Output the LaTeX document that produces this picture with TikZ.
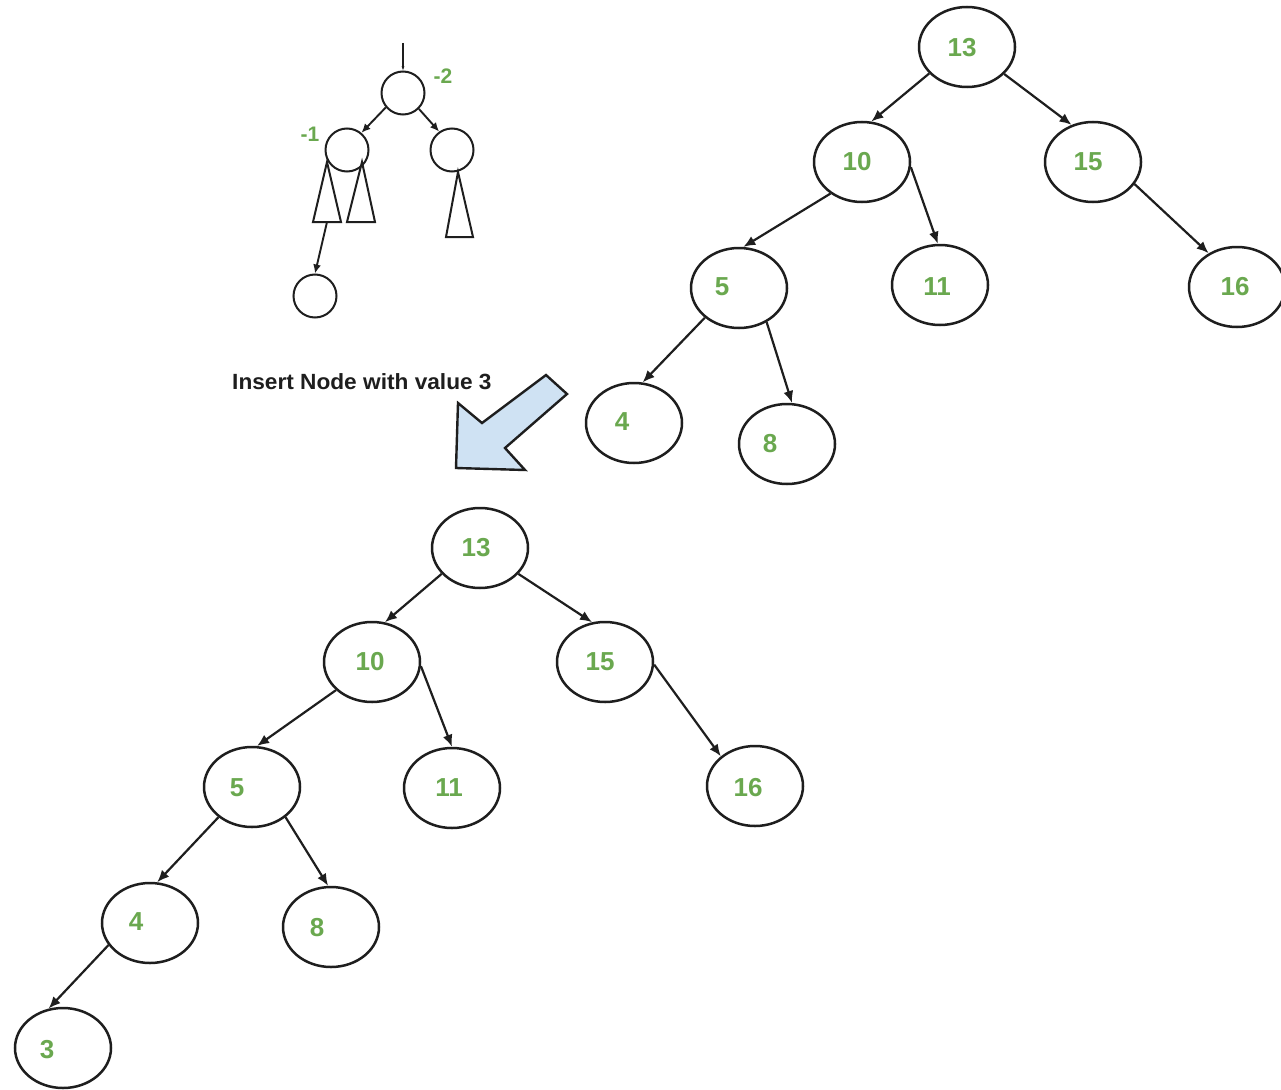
\documentclass[tikz,border=0pt]{standalone}
\usepackage{fontspec}
\usepackage{graphicx}
\setmainfont{Liberation Sans}
\usetikzlibrary{shapes.geometric,arrows.meta}
\definecolor{numgreen}{RGB}{106,168,79}
\definecolor{arrowfill}{RGB}{207,226,243}
\definecolor{ink}{RGB}{30,30,30}
\begin{document}
\begin{tikzpicture}[x=1pt,y=-1pt,
  tn/.style={ellipse,draw=ink,line width=2.5pt,minimum width=96pt,minimum height=80pt,inner sep=0pt},
  num/.style={font=\fontsize{26}{26}\selectfont\bfseries,text=numgreen,inner sep=0pt},
  snum/.style={font=\fontsize{21}{21}\selectfont\bfseries,text=numgreen,inner sep=0pt},
  edge/.style={draw=ink,line width=2.2pt,-{Latex[length=12pt,width=10pt]}},
  sc/.style={circle,draw=ink,line width=2pt,minimum size=43pt,inner sep=0pt},
  sedge/.style={draw=ink,line width=1.9pt,-{Latex[length=9pt,width=8pt]}},
  tri/.style={draw=ink,line width=2pt,line join=miter},
  ]
\fill[white] (0,0) rectangle (1281,1089);
\useasboundingbox (0,0) rectangle (1281,1089);

% ---------- small diagram ----------
\node[sc] (sr) at (403,93) {};
\node[sc] (sl) at (347,150) {};
\node[sc] (sright) at (452,150) {};
\node[sc] (sb) at (315,296) {};
\node[snum] (lm2) at (443,76) {-2};
\node[snum] (lm1) at (310,134) {-1};
\coordinate (sin) at (403,43);
\draw[draw=ink,line width=1.3pt,-{Latex[length=4pt,width=3pt]}] (sin) -- (sr.north);
\draw[sedge] (sr.-140) -- (sl.50);
\draw[sedge] (sr.-45) -- (sright.125);
\draw[tri] (327,162) -- (313,222) -- (341,222) -- cycle;
\draw[tri] (362,162) -- (347,222) -- (375,222) -- cycle;
\draw[tri] (458,172) -- (446,237) -- (473,237) -- cycle;
\coordinate (tb) at (327,222);
\draw[sedge] (tb) -- (sb.north);

% ---------- insert label and block arrow ----------
\node[font=\fontsize{22}{22}\selectfont\bfseries,text=ink,anchor=west,inner sep=0pt] (ins) at (232,382)
  {\scalebox{1.03}[1]{Insert Node with value 3}};
\draw[fill=arrowfill,draw=ink,line width=2.4pt,line join=miter]
  (546,375) -- (567,394) -- (505,448) -- (525,470) -- (456,468) -- (458,403) -- (482,423) -- cycle;

% ---------- top tree ----------
\node[tn] (a13) at (967,47) {};
\node[tn] (a10) at (862,162) {};
\node[tn] (a15) at (1093,162) {};
\node[tn] (a5)  at (739,288) {};
\node[tn] (a11) at (940,285) {};
\node[tn] (a16) at (1237,287) {};
\node[tn] (a4)  at (634,423) {};
\node[tn] (a8)  at (787,444) {};
\node[num] at (962,48) {13};
\node[num] at (857,162) {10};
\node[num] at (1088,162) {15};
\node[num] at (722,287) {5};
\node[num] at (937,287) {11};
\node[num] at (1235,287) {16};
\node[num] at (622,422) {4};
\node[num] at (770,444) {8};
\draw[edge] (a13.-145) -- (a10.77);
\draw[edge] (a13.-36) -- (a15.120);
\draw[edge] (a10.-135) -- (a5.84);
\draw[edge] (a10.-6) -- (a11.93);
\draw[edge] (a15.-28) -- (a16.130);
\draw[edge] (a5.-139) -- (a4.78);
\draw[edge] (a5.-51) -- (a8.83);

% ---------- bottom tree ----------
\node[tn] (b13) at (480,548) {};
\node[tn] (b10) at (372,662) {};
\node[tn] (b15) at (605,662) {};
\node[tn] (b5)  at (252,787) {};
\node[tn] (b11) at (452,788) {};
\node[tn] (b16) at (755,786) {};
\node[tn] (b4)  at (150,923) {};
\node[tn] (b8)  at (331,927) {};
\node[tn] (b3)  at (63,1048) {};
\node[num] at (476,548) {13};
\node[num] at (370,662) {10};
\node[num] at (600,662) {15};
\node[num] at (237,788) {5};
\node[num] at (449,788) {11};
\node[num] at (748,788) {16};
\node[num] at (136,922) {4};
\node[num] at (317,928) {8};
\node[num] at (47,1050) {3};
\draw[edge] (b13.-146) -- (b10.72);
\draw[edge] (b13.-34) -- (b15.108);
\draw[edge] (b10.-142) -- (b5.83);
\draw[edge] (b10.-5) -- (b11.90);
\draw[edge] (b15.-3) -- (b16.139);
\draw[edge] (b5.-138) -- (b4.80);
\draw[edge] (b5.-42) -- (b8.94);
\draw[edge] (b4.-152) -- (b3.110);
\end{tikzpicture}
\end{document}
